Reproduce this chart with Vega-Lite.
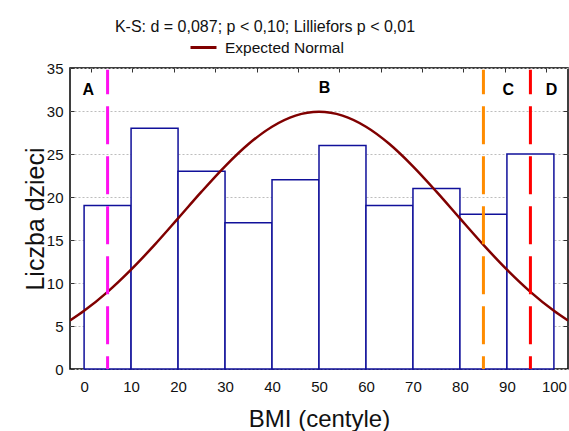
{
  "$schema": "https://vega.github.io/schema/vega-lite/v6.json",
  "width": 498,
  "height": 301,
  "autosize": {"type": "none"},
  "padding": {"left": 70, "top": 68, "right": 1, "bottom": 62},
  "background": "white",
  "config": {
    "font": "Liberation Sans",
    "view": {"stroke": "#000000", "strokeWidth": 1.5},
    "axis": {"domain": false, "labelColor": "#111111", "titleColor": "#111111"}
  },
  "title": {
    "text": "K-S: d = 0,087; p < 0,10; Lilliefors p < 0,01",
    "anchor": "middle",
    "dx": -54,
    "offset": -15,
    "baseline": "alphabetic",
    "fontSize": 16,
    "fontWeight": "normal",
    "font": "Liberation Sans",
    "color": "#111111"
  },
  "datasets": {
    "bins": [
      {"start": 0, "end": 10, "count": 19},
      {"start": 10, "end": 20, "count": 28},
      {"start": 20, "end": 30, "count": 23},
      {"start": 30, "end": 40, "count": 17},
      {"start": 40, "end": 50, "count": 22},
      {"start": 50, "end": 60, "count": 26},
      {"start": 60, "end": 70, "count": 19},
      {"start": 70, "end": 80, "count": 21},
      {"start": 80, "end": 90, "count": 18},
      {"start": 90, "end": 100, "count": 25}
    ],
    "normal": [
      {"bmi": -3, "expected": 5.63},
      {"bmi": 0, "expected": 6.76},
      {"bmi": 5, "expected": 8.97},
      {"bmi": 10, "expected": 11.55},
      {"bmi": 15, "expected": 14.43},
      {"bmi": 20, "expected": 17.51},
      {"bmi": 25, "expected": 20.62},
      {"bmi": 30, "expected": 23.57},
      {"bmi": 35, "expected": 26.16},
      {"bmi": 40, "expected": 28.17},
      {"bmi": 45, "expected": 29.46},
      {"bmi": 50, "expected": 29.9},
      {"bmi": 55, "expected": 29.46},
      {"bmi": 60, "expected": 28.17},
      {"bmi": 65, "expected": 26.16},
      {"bmi": 70, "expected": 23.57},
      {"bmi": 75, "expected": 20.62},
      {"bmi": 80, "expected": 17.51},
      {"bmi": 85, "expected": 14.43},
      {"bmi": 90, "expected": 11.55},
      {"bmi": 95, "expected": 8.97},
      {"bmi": 100, "expected": 6.76},
      {"bmi": 103, "expected": 5.63}
    ],
    "letters": [
      {"bmi": 0.9, "level": 32.5, "label": "A"},
      {"bmi": 51.2, "level": 32.7, "label": "B"},
      {"bmi": 90.3, "level": 32.5, "label": "C"},
      {"bmi": 99.5, "level": 32.5, "label": "D"}
    ],
    "cutoffs": [
      {"centile": 5, "name": "p5"},
      {"centile": 85, "name": "p85"},
      {"centile": 95, "name": "p95"}
    ]
  },
  "layer": [
    {
      "data": {"name": "bins"},
      "mark": {"type": "rect", "fill": "white", "stroke": "#10109a", "strokeWidth": 1.5},
      "encoding": {
        "x": {
          "field": "start", "type": "quantitative",
          "scale": {"domain": [-3, 103], "nice": false, "zero": false},
          "axis": {
            "orient": "bottom", "values": [0, 10, 20, 30, 40, 50, 60, 70, 80, 90, 100],
            "ticks": false, "labelPadding": 10, "labelFontSize": 15, "grid": false,
            "title": "BMI (centyle)", "titleFontSize": 24, "titleFontWeight": "normal", "titlePadding": 13
          }
        },
        "x2": {"field": "end"},
        "y": {
          "field": "count", "type": "quantitative",
          "scale": {"domain": [0, 35], "nice": false},
          "axis": {
            "orient": "left", "values": [0, 5, 10, 15, 20, 25, 30, 35],
            "tickSize": -4, "tickColor": "#333333", "labelPadding": 11, "labelFontSize": 15,
            "grid": true, "gridColor": "#bdbdbd", "gridDash": [2, 2], "gridWidth": 1,
            "title": "Liczba dzieci", "titleFontSize": 25, "titleFontWeight": "normal", "titlePadding": -2
          }
        },
        "y2": {"datum": 0}
      }
    },
    {
      "data": {"name": "normal"},
      "mark": {"type": "line", "strokeWidth": 2.5, "interpolate": "monotone", "clip": true},
      "encoding": {
        "x": {
          "field": "bmi", "type": "quantitative",
          "axis": {
            "orient": "top", "values": [1.5, 10.3, 19.1, 27.9, 36.7, 45.5, 54.3, 63.1, 71.9, 80.7, 89.5, 98.3],
            "labels": false, "tickSize": -4, "tickColor": "#333333", "grid": false, "title": null
          }
        },
        "y": {
          "field": "expected", "type": "quantitative",
          "axis": {
            "orient": "right", "values": [5, 10, 15, 20, 25, 30],
            "labels": false, "tickSize": -5, "tickColor": "#333333", "grid": false, "title": null
          }
        },
        "color": {
          "datum": "Expected Normal",
          "scale": {"range": ["#800000"]},
          "legend": {
            "orient": "none", "legendX": 119, "legendY": -35, "title": null,
            "symbolType": "stroke", "symbolSize": 676, "symbolStrokeWidth": 3,
            "labelFontSize": 15.5, "labelOffset": 7, "labelColor": "#111111",
            "padding": 0
          }
        }
      }
    },
    {
      "data": {"name": "letters"},
      "mark": {"type": "text", "fontSize": 16, "fontWeight": "bold", "color": "#000000", "baseline": "middle", "align": "center"},
      "encoding": {
        "x": {"field": "bmi", "type": "quantitative", "axis": null},
        "y": {"field": "level", "type": "quantitative", "axis": null},
        "text": {"field": "label"}
      }
    },
    {
      "data": {"name": "cutoffs"},
      "mark": {"type": "rule", "strokeWidth": 3, "strokeDash": [38, 12], "strokeDashOffset": 13.5},
      "encoding": {
        "x": {"field": "centile", "type": "quantitative", "axis": null},
        "y": {"datum": 34.8, "type": "quantitative", "axis": null},
        "y2": {"datum": 0},
        "stroke": {
          "field": "name", "type": "nominal",
          "scale": {"domain": ["p5", "p85", "p95"], "range": ["#ff10f0", "#ff8c00", "#ff0000"]},
          "legend": null
        }
      }
    }
  ],
  "resolve": {"axis": {"x": "independent", "y": "independent"}, "scale": {"stroke": "independent", "color": "independent"}}
}
